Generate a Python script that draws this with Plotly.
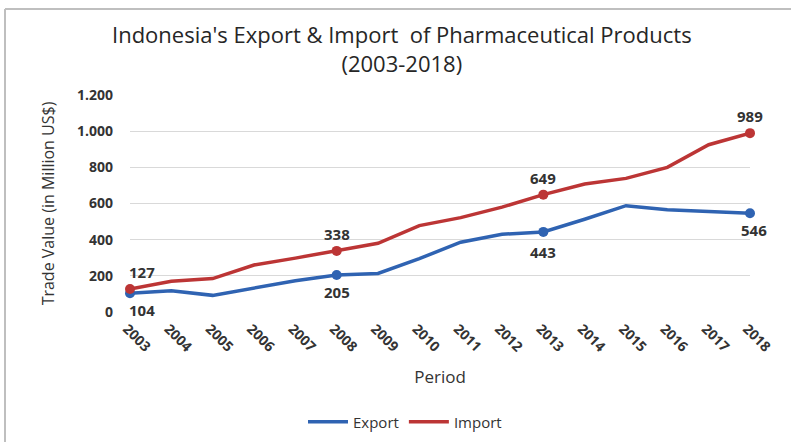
import plotly.graph_objects as go

years = [str(y) for y in range(2003, 2019)]
export_vals = [104, 117, 92, 133, 173, 205, 213, 295, 386, 430, 443, 513, 588, 566, 556, 546]
import_vals = [127, 170, 185, 260, 298, 338, 380, 478, 522, 580, 649, 708, 739, 800, 925, 989]
label_idx = [0, 5, 10, 15]
y_ticks = [0, 200, 400, 600, 800, 1000, 1200]

blue = "#2F63B2"
red = "#BC3535"
txt = "#333333"
FONT = "'Open Sans', Lato, sans-serif"

fig = go.Figure()
for name, vals, col in [("Export", export_vals, blue), ("Import", import_vals, red)]:
    fig.add_trace(go.Scatter(
        x=years, y=vals, name=name, mode="lines",
        line=dict(color=col, width=3.5),
        cliponaxis=False, hoverinfo="x+y",
    ))
    fig.add_trace(go.Scatter(
        x=[years[i] for i in label_idx], y=[vals[i] for i in label_idx], mode="markers",
        marker=dict(size=10, color=col, line=dict(width=0)), showlegend=False,
        cliponaxis=False, hoverinfo="skip",
    ))

annotations = []
for i in label_idx:
    xa = "left" if i == 0 else "center"
    xs = -3 if i == 0 else 0
    annotations.append(dict(x=i, y=import_vals[i], xref="x", yref="y", text=str(import_vals[i]),
                            showarrow=False, xanchor=xa, yanchor="middle", xshift=xs, yshift=17,
                            font=dict(family=FONT, size=15, color=txt, weight="bold")))
    annotations.append(dict(x=i, y=export_vals[i], xref="x", yref="y", text=str(export_vals[i]),
                            showarrow=False, xanchor=xa, yanchor="middle",
                            xshift=xs + (4 if i == 15 else 0),
                            yshift=-20 if i == 10 else -17,
                            font=dict(family=FONT, size=15, color=txt, weight="bold")))

# plot area pixel geometry: x 130..750, y 95..312
def px_x(p):
    return (p - 130) / 620.0

def px_y(p):
    return (312 - p) / 217.0

shapes = [
    dict(type="line", xref="paper", yref="paper", x0=px_x(5), x1=px_x(5), y0=px_y(9), y1=px_y(445),
         line=dict(color="#BFBFBF", width=2)),
    dict(type="line", xref="paper", yref="paper", x0=px_x(5), x1=px_x(795), y0=px_y(9), y1=px_y(9),
         line=dict(color="#BFBFBF", width=2)),
]

fig.update_layout(
    width=791, height=442,
    margin=dict(l=130, r=41, t=95, b=130, autoexpand=False),
    paper_bgcolor="white", plot_bgcolor="white",
    separators=",.",
    font=dict(family=FONT, color=txt, size=14),
    title=dict(text="Indonesia's Export &amp; Import  of Pharmaceutical Products<br>(2003-2018)",
               x=0.508, xanchor="center", y=0.902, yanchor="top",
               font=dict(family=FONT, size=22, color="#262626")),
    xaxis=dict(type="category", range=[0, 15], tickangle=45, showgrid=False, zeroline=False,
               showline=False, ticks="", automargin=False, ticklabelshift=-3, ticklabelstandoff=5,
               tickfont=dict(size=14, color=txt, weight="bold"),
               title=dict(text="Period", font=dict(size=17, color=txt), standoff=16)),
    yaxis=dict(range=[0, 1200], tickvals=y_ticks, tickformat=",d", showgrid=True,
               gridcolor="#D9D9D9", gridwidth=1.2, zeroline=False, showline=False, ticks="",
               automargin=False, ticklabelstandoff=16,
               tickfont=dict(size=14, color=txt, weight="bold"),
               title=dict(text="Trade Value (in Million US$)", font=dict(size=16, color=txt), standoff=18)),
    legend=dict(orientation="h", x=px_x(405), xanchor="center", y=px_y(422), yanchor="middle",
                font=dict(size=15, color=txt), itemwidth=40, bgcolor="rgba(0,0,0,0)"),
    annotations=annotations,
    shapes=shapes,
)

fig.write_html("out.html", config={"displayModeBar": False},
               post_script="document.body.style.margin='0px';document.body.style.padding='0px';")
